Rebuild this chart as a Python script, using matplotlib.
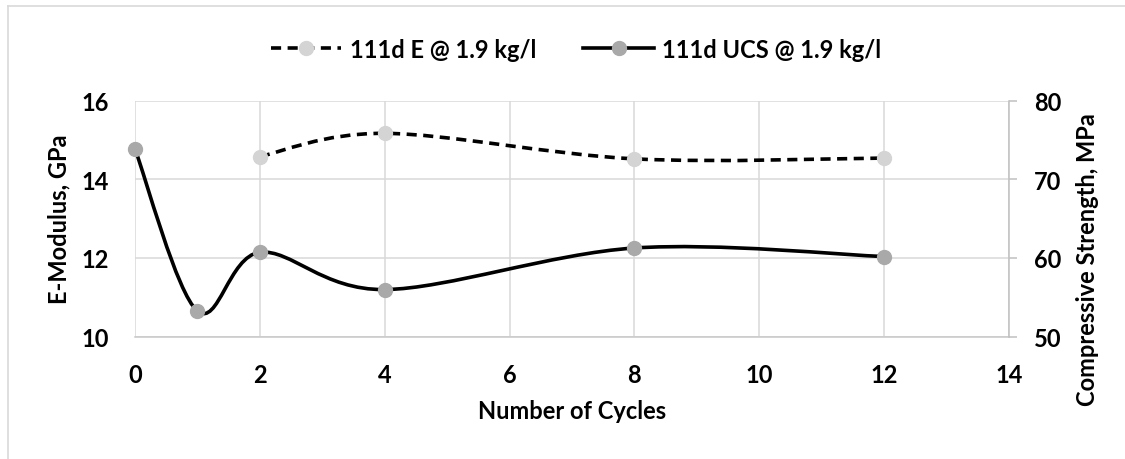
import matplotlib
matplotlib.use("Agg")
import numpy as np
import matplotlib.pyplot as plt
from matplotlib.path import Path
from matplotlib.patches import PathPatch
from matplotlib.lines import Line2D

plt.rcParams['font.family'] = ['Lato', 'DejaVu Sans']
plt.rcParams['font.weight'] = 'bold'
plt.rcParams['axes.labelweight'] = 'bold'
plt.rcParams['font.size'] = 17

# data
cycles_e = [2, 4, 8, 12]
e_modulus = [14.58, 15.17, 14.52, 14.54]
cycles_ucs = [0, 1, 2, 4, 8, 12]
ucs = [73.85, 53.24, 60.71, 55.97, 61.26, 60.17]

label_e = "111d E @ 1.9 kg/l"
label_ucs = "111d UCS @ 1.9 kg/l"
x_ticks = [0, 2, 4, 6, 8, 10, 12, 14]
left_ticks = [10, 12, 14, 16]
right_ticks = [50, 60, 70, 80]

col_e = '#d4d4d4'
col_ucs = '#a9a9a9'
grid_col = '#d9d9d9'


def smooth_path(xs, ys):
    # Excel style smoothed line: cubic bezier through the points
    pts = np.column_stack([xs, ys]).astype(float)
    n = len(pts)
    verts = [pts[0]]
    codes = [Path.MOVETO]
    for i in range(n - 1):
        p0 = pts[i - 1] if i > 0 else pts[i]
        p1 = pts[i]
        p2 = pts[i + 1]
        p3 = pts[i + 2] if i + 2 < n else pts[i + 1]
        c1 = p1 + (p2 - p0) / 6.0
        c2 = p2 - (p3 - p1) / 6.0
        verts += [c1, c2, p2]
        codes += [Path.CURVE4] * 3
    return Path(verts, codes)


fig = plt.figure(figsize=(11.25, 4.6), dpi=100)
ax = fig.add_axes([135 / 1125, 1 - 337.5 / 460, 874 / 1125, 235.8 / 460])
ax2 = ax.twinx()

lw = 2.6
dash = (0, (2.8, 1.8))
ax.add_patch(PathPatch(smooth_path(cycles_e, e_modulus), fill=False, color='black',
                       lw=lw, linestyle=dash, capstyle='butt', zorder=3))
ax.plot(cycles_e, e_modulus, 'o', ms=10, color=col_e, mec=col_e, zorder=4, clip_on=False)

ax2.add_patch(PathPatch(smooth_path(cycles_ucs, ucs), fill=False, color='black',
                        lw=lw, zorder=3))
ax2.plot(cycles_ucs, ucs, 'o', ms=10, color=col_ucs, mec=col_ucs, zorder=4, clip_on=False)

ax.set_xlim(0, 14)
ax.set_ylim(10, 16)
ax2.set_ylim(50, 80)
ax.set_xticks(x_ticks)
ax.set_yticks(left_ticks)
ax2.set_yticks(right_ticks)

ax.grid(True, color=grid_col, lw=1.1)
ax.set_axisbelow(True)
for s in ['top', 'left', 'right']:
    ax.spines[s].set_visible(False)
ax.spines['bottom'].set_color('#c8c8c8')
ax.spines['bottom'].set_linewidth(1.1)
for s in ['top', 'left', 'bottom']:
    ax2.spines[s].set_visible(False)
ax2.spines['right'].set_color('#c0c0c0')
ax2.spines['right'].set_linewidth(1.1)

ax.tick_params(axis='x', length=0, pad=19)
ax.tick_params(axis='y', length=0, pad=18.5)
ax2.tick_params(axis='y', length=5.8, width=1.1, color='#c0c0c0', pad=12)

ax.set_xlabel("Number of Cycles")
ax.xaxis.set_label_coords(0.5, (337.5 - 412) / 236)
ax.xaxis.label.set_va('center')
ax.set_ylabel("E-Modulus, GPa")
ax.yaxis.set_label_coords((59 - 135) / 874, 0.5)
ax.yaxis.label.set_va('center')
ax2.set_ylabel("Compressive Strength, MPa")
ax2.yaxis.set_label_coords((1087 - 135) / 874, (337.5 - 260) / 236)
ax2.yaxis.label.set_va('center')

handles = [
    Line2D([], [], color='black', lw=lw, linestyle=dash, marker='o',
           ms=10, mfc=col_e, mec=col_e),
    Line2D([], [], color='black', lw=lw, marker='o', ms=10, mfc=col_ucs, mec=col_ucs),
]
fig.legend(handles, [label_e, label_ucs], loc='center', ncol=2, frameon=False,
           bbox_to_anchor=(576 / 1125, 1 - 50 / 460), handlelength=3.0,
           handletextpad=0.35, columnspacing=2.0)

# thin chart frame (only top and left edges are inside the picture)
fig.add_artist(Line2D([8 / 1125, 1], [1 - 7 / 460, 1 - 7 / 460], color=grid_col, lw=1.2))
fig.add_artist(Line2D([8 / 1125, 8 / 1125], [0, 1 - 7 / 460], color=grid_col, lw=1.2))

fig.savefig("out.png", dpi=100)
